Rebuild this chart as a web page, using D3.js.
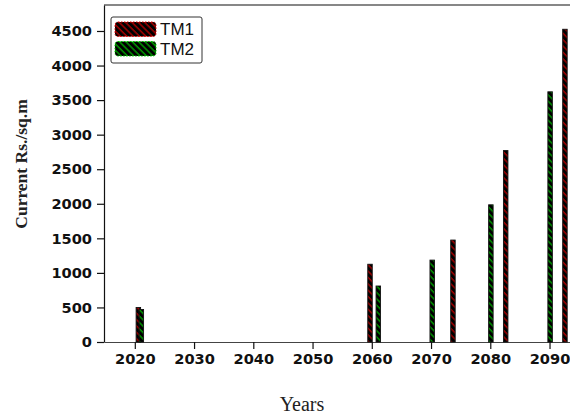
<!DOCTYPE html>
<html>
<head>
<meta charset="utf-8">
<script src="https://cdn.jsdelivr.net/npm/d3@7"></script>
<style>
  body { margin: 0; background: #fff; }
  svg { display: block; }
</style>
</head>
<body>
<div id="chart"></div>
<script>
// values
const seriesNames = ["TM1", "TM2"];
const tm1Years = [2020.6, 2059.7, 2073.7, 2082.6, 2092.6];
const tm1Values = [500, 1125, 1475, 2770, 4525];
const tm2Years = [2021.1, 2061.1, 2070.2, 2080.1, 2090.1];
const tm2Values = [470, 810, 1185, 1985, 3620];
const xTicks = [2020, 2030, 2040, 2050, 2060, 2070, 2080, 2090];
const yTicks = [0, 500, 1000, 1500, 2000, 2500, 3000, 3500, 4000, 4500];

const width = 570,
  height = 415,
  margin = ({top: 5, right: -13, bottom: 73, left: 104});

const svg = d3.select("#chart")
  .append("svg")
  .attr("width", width)
  .attr("height", height);

// hatch fills (dark background + coloured diagonal dashes)
const defs = svg.append("defs");
const hatchColors = {TM1: "#e00000", TM2: "#00d000"};
seriesNames.forEach(name => {
  const p = defs.append("pattern")
    .attr("id", "hatch-" + name)
    .attr("patternUnits", "userSpaceOnUse")
    .attr("width", 4.5)
    .attr("height", 4.5)
    .attr("patternTransform", "rotate(-45)");
  p.append("rect").attr("width", 4.5).attr("height", 4.5).attr("fill", "#000");
  p.append("line")
    .attr("x1", 1).attr("y1", 0).attr("x2", 1).attr("y2", 4.5)
    .attr("stroke", hatchColors[name])
    .attr("stroke-width", 1.1);
});

let x = d3.scaleLinear()
  .domain([2014.8, 2095.65])
  .range([margin.left, width - margin.right]);

let y = d3.scaleLinear()
  .domain([0, 4876])
  .range([height - margin.bottom, margin.top]);

// top frame line
svg.append("line")
  .attr("x1", margin.left).attr("x2", width - margin.right)
  .attr("y1", y(4876)).attr("y2", y(4876))
  .attr("stroke", "#111").attr("stroke-width", 1.2);

// y axis
svg.append("g")
  .attr("class", "y-axis")
  .attr("transform", `translate(${margin.left},0)`)
  .call(d3.axisLeft(y).tickValues(yTicks).tickSize(7).tickSizeOuter(0).tickPadding(5)
    .tickFormat(d3.format("d")));

// x axis
svg.append("g")
  .attr("class", "x-axis")
  .attr("transform", `translate(0,${height - margin.bottom})`)
  .call(d3.axisBottom(x).tickValues(xTicks).tickSize(7).tickSizeOuter(0).tickPadding(5)
    .tickFormat(d3.format("d")));

svg.selectAll(".y-axis path, .y-axis line, .x-axis path, .x-axis line")
  .attr("stroke", "#111")
  .attr("stroke-width", 1.2);

svg.selectAll(".x-axis path").attr("stroke", "#444");

svg.selectAll(".y-axis text, .x-axis text")
  .attr("font-family", "DejaVu Sans, sans-serif")
  .attr("font-weight", "bold")
  .attr("font-size", 14.6)
  .attr("fill", "#111");

// bars
const barW = 4.5;
const bars = [
  {name: "TM1", years: tm1Years, values: tm1Values},
  {name: "TM2", years: tm2Years, values: tm2Values}
];

bars.forEach(s => {
  svg.append("g")
    .selectAll("rect")
    .data(s.years.map((yr, i) => ({yr: yr, v: s.values[i]})))
    .join("rect")
    .attr("x", d => x(d.yr) - barW / 2)
    .attr("y", d => y(d.v))
    .attr("width", barW)
    .attr("height", d => y(0) - y(d.v))
    .attr("fill", "url(#hatch-" + s.name + ")")
    .attr("stroke", "#111")
    .attr("stroke-width", 0.9);
});

// axis titles
svg.append("text")
  .attr("class", "y-label")
  .attr("text-anchor", "middle")
  .attr("transform", "translate(27,164) rotate(-90)")
  .attr("font-family", "Liberation Serif, serif")
  .attr("font-weight", "bold")
  .attr("font-size", 17.5)
  .attr("fill", "#222")
  .text("Current Rs./sq.m");

svg.append("text")
  .attr("class", "x-label")
  .attr("text-anchor", "middle")
  .attr("x", 302)
  .attr("y", 411)
  .attr("font-family", "Liberation Serif, serif")
  .attr("font-size", 20)
  .attr("fill", "#222")
  .text("Years");

// legend
const legend = svg.append("g").attr("class", "legend");
legend.append("rect")
  .attr("x", 111).attr("y", 17)
  .attr("width", 91).attr("height", 46)
  .attr("rx", 2)
  .attr("fill", "#fff")
  .attr("stroke", "#333")
  .attr("stroke-width", 1);

seriesNames.forEach((name, i) => {
  const gy = 22 + i * 19.5;
  legend.append("rect")
    .attr("x", 115).attr("y", gy)
    .attr("width", 41).attr("height", 14.5)
    .attr("rx", 3)
    .attr("fill", "url(#hatch-" + name + ")")
    .attr("stroke", hatchColors[name])
    .attr("stroke-width", 1)
    .attr("stroke-dasharray", "1.5,1.5");
  legend.append("text")
    .attr("x", 160)
    .attr("y", gy + 13)
    .attr("font-family", "Liberation Sans, Arial, sans-serif")
    .attr("font-size", 17)
    .attr("fill", "#111")
    .text(name);
});
</script>
</body>
</html>
